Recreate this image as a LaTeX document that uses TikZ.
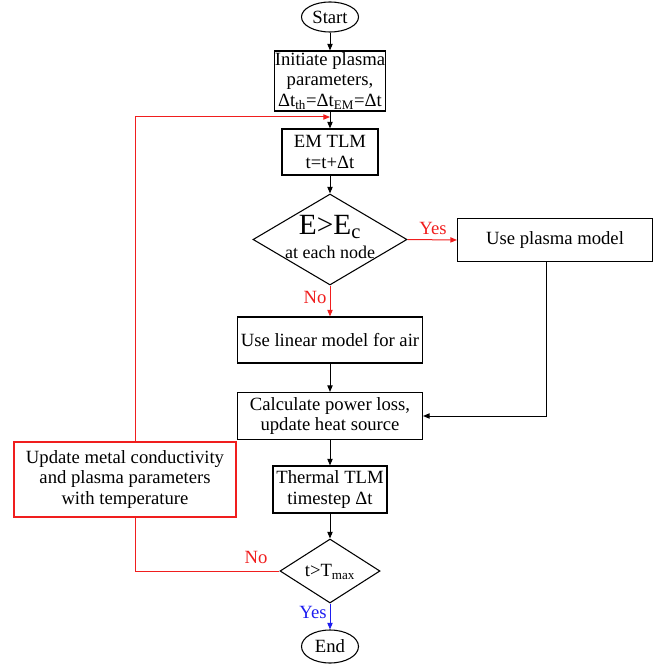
\documentclass[tikz,border=0pt]{standalone}
\usepackage{fontspec}
\setmainfont{Liberation Serif}
\usetikzlibrary{shapes.geometric,arrows.meta}
\definecolor{lred}{RGB}{240,30,30}
\definecolor{lblue}{RGB}{30,30,240}
\begin{document}
\begin{tikzpicture}[x=0.75pt,y=-0.75pt,
  txt/.style={font=\fontsize{14}{15.3}\selectfont, align=center, inner sep=0pt},
  box/.style={txt, draw, line width=0.8pt, rectangle},
  term/.style={txt, draw, line width=0.8pt, ellipse},
  dia/.style={draw, line width=0.8pt, diamond, inner sep=0pt},
  arr/.style={line width=0.75pt, -{Triangle[length=5pt,width=4pt]}},
  lab/.style={font=\fontsize{14}{15}\selectfont, inner sep=0pt}
]
\useasboundingbox (0,0) rectangle (670,663);

\node[term, minimum width=42.75pt, minimum height=22.5pt] (start) at (330,17) {Start};
\node[box, minimum width=82.5pt, minimum height=45pt] (init) at (330,81)
  {Initiate plasma\\parameters,\\Δt\textsubscript{th}=Δt\textsubscript{EM}=Δt};
\node[box, minimum width=72pt, minimum height=34.5pt] (em) at (330,152) {EM TLM\\t=t+Δt};
\node[dia, minimum width=115.5pt, minimum height=68.25pt] (d1) at (330,239.5) {};
\node[inner sep=0pt, font=\fontsize{22}{22}\selectfont] (d1a) at (330,227) {E>E\textsubscript{c}};
\node[inner sep=0pt, font=\fontsize{13.5}{14}\selectfont] (d1b) at (330,252) {at each node};
\node[box, minimum width=146.25pt, minimum height=32.25pt] (plasma) at (555,240) {Use plasma model};
\node[box, minimum width=138.75pt, minimum height=34.5pt] (linear) at (330,340) {Use linear model for air};
\node[box, minimum width=138.75pt, minimum height=35.25pt] (calc) at (330,416) {Calculate power loss,\\update heat source};
\node[box, minimum width=85.5pt, minimum height=35.25pt] (thermal) at (330,489.5) {Thermal TLM\\timestep Δt};
\node[dia, minimum width=75pt, minimum height=48pt] (d2) at (330,571) {};
\node[txt] (d2t) at (330,572) {t>T\textsubscript{max}};
\node[term, minimum width=42.75pt, minimum height=24.75pt] (end) at (330,646.5) {End};
\node[box, draw=lred, minimum width=166.5pt, minimum height=56.25pt] (update) at (125,479.5)
  {Update metal conductivity\\and plasma parameters\\with temperature};

\coordinate (join) at (330,117);
\coordinate (ltop) at (135,117);
\coordinate (lbot) at (135,571);

\draw[arr] (start) -- (init);
\draw[arr] (init) -- (em);
\draw[arr] (em) -- (d1.north);
\draw[arr, lred] (d1.east) -- (plasma.west);
\draw[arr, lred] (d1.south) -- (linear.north);
\draw[arr] (linear) -- (calc);
\draw[arr] ([xshift=-6.75pt]plasma.south) |- (calc.east);
\draw[arr] (calc) -- (thermal);
\draw[arr] (thermal) -- (d2.north);
\draw[arr, lblue] (d2.south) -- (end);
\draw[line width=0.75pt, lred] (d2.west) -- (lbot) -- (lbot |- update.south);
\draw[arr, lred] (ltop |- update.north) -- (ltop) -- (join);

\node[lab, text=lred] (yes1) at (433,228) {Yes};
\node[lab, text=lred] (no1) at (315,297) {No};
\node[lab, text=lred] (no2) at (256,557) {No};
\node[lab, text=lblue] (yes2) at (313,612) {Yes};
\end{tikzpicture}
\end{document}
